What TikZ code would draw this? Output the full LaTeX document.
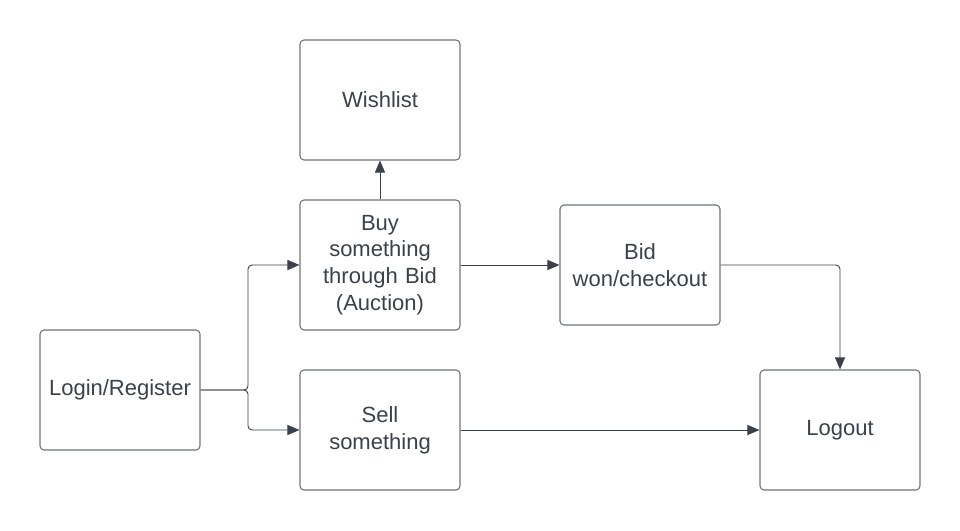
\documentclass[tikz,border=0pt]{standalone}
\usepackage{fontspec}
\setmainfont{Liberation Sans}
\usetikzlibrary{arrows.meta}

\definecolor{inkline}{HTML}{3A414A}
\definecolor{boxline}{HTML}{70747A}

\tikzset{
  flowbox/.style={draw=boxline, line width=0.8pt, rounded corners=3pt,
    minimum width=120pt, minimum height=90pt, text width=110pt, align=center,
    text=inkline, font=\fontsize{16.5}{20}\selectfont},
  conn/.style={draw=inkline, line width=0.7pt, rounded corners=3pt,
    -{Triangle[length=9pt, width=7.5pt]}}
}

\begin{document}
\begin{tikzpicture}[x=0.75pt, y=-0.75pt]
            \useasboundingbox (0,0) rectangle (960,531);

            % Boxes
            \node[flowbox] (login) at (120,390) {Login/Register};
            \node[flowbox] (wish) at (380,100) {Wishlist};
            \node[flowbox, minimum height=97.5pt] (buy) at (380,265) {Buy\\something\\through Bid\\(Auction)};
            \node[flowbox] (sell) at (380,430) {Sell\\something};
            \node[flowbox] (won) at (640,265) {Bid\\won/checkout};
            \node[flowbox] (logout) at (840,430) {Logout};

            % Connectors
            \coordinate (fork) at (248,390);
            \draw[conn] (login.east) -- (fork) |- (buy.west);
            \draw[conn] (login.east) -- (fork) |- (sell.west);
            \draw[conn] (buy.north) -- (wish.south);
            \draw[conn] (buy.east) -- (won.west);
            \draw[conn] (won.east) -| (logout.north);
            \draw[conn] (sell.east) -- (logout.west);
\end{tikzpicture}
\end{document}
